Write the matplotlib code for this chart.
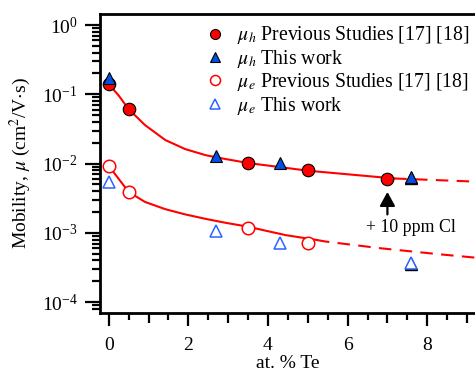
import matplotlib

matplotlib.use("Agg")
import matplotlib.pyplot as plt
from matplotlib.ticker import FixedLocator, LogLocator, NullFormatter

plt.rcParams["font.family"] = ["Liberation Serif", "DejaVu Serif"]
plt.rcParams["mathtext.fontset"] = "stix"
plt.rcParams["xtick.direction"] = "out"
plt.rcParams["ytick.direction"] = "out"

# measured points
hole_prev_x = [0.0, 0.5, 3.5, 5.0, 7.0]
hole_prev_y = [0.14, 0.061, 0.0101, 0.0080, 0.0060]
hole_this_x = [0.0, 2.7, 4.3, 7.6]
hole_this_y = [0.17, 0.0128, 0.0102, 0.0065]
elec_prev_x = [0.0, 0.5, 3.5, 5.0]
elec_prev_y = [0.0093, 0.0039, 0.00119, 0.00071]
elec_this_x = [0.0, 2.7, 4.3, 7.6]
elec_this_y = [0.0055, 0.00106, 0.00071, 0.000365]
cl_x = [7.6, 7.6]
cl_y = [0.0061, 0.00035]

# fit curves
hole_fit_x = [0.0, 0.25, 0.5, 0.91, 1.42, 1.92, 2.42, 2.7, 3.5, 5.0, 7.17]
hole_fit_y = [0.14, 0.096, 0.061, 0.036, 0.0219, 0.0162, 0.0133, 0.0123, 0.0102, 0.0079, 0.0061]
hole_ext_x = [7.17, 7.83, 9.2]
hole_ext_y = [0.0061, 0.0059, 0.0055]
elec_fit_x = [0.0, 0.5, 0.91, 1.42, 1.92, 2.42, 2.93, 3.5, 3.93, 4.44, 5.23]
elec_fit_y = [0.0093, 0.0039, 0.0028, 0.0022, 0.00185, 0.0016, 0.0014, 0.00123, 0.00108, 0.00093, 0.00079]
elec_ext_x = [5.23, 5.45, 6.83, 8.33, 9.2]
elec_ext_y = [0.00079, 0.00075, 0.00060, 0.00049, 0.00044]

x_major = [0, 2, 4, 6, 8]
x_mid = [1, 3, 5, 7, 9]
x_minor = [0.5, 1.5, 2.5, 3.5, 4.5, 5.5, 6.5, 7.5, 8.5]

RED = "#ff0000"
BLUE = "#0050e6"
LBLUE = "#2a62ff"

fig = plt.figure(figsize=(4.75, 3.74), dpi=100)
ax = fig.add_axes([0.2105, 0.164, 0.7895, 0.7986])

ax.plot(hole_fit_x, hole_fit_y, color=RED, lw=1.5, zorder=2)
ax.plot(hole_ext_x, hole_ext_y, color=RED, lw=1.5, dashes=(6, 4), zorder=2)
ax.plot(elec_fit_x, elec_fit_y, color=RED, lw=1.5, zorder=2)
ax.plot(elec_ext_x, elec_ext_y, color=RED, lw=1.5, dashes=(6, 4), zorder=2)

ax.plot(cl_x, cl_y, ls="none", marker="^", ms=8.5, color="k", zorder=3)
ax.plot(hole_prev_x, hole_prev_y, ls="none", marker="o", ms=9, mfc=RED, mec="k", mew=0.8,
        label=r"$\mu_h$ Previous Studies [17] [18]", zorder=4)
ax.plot(hole_this_x, hole_this_y, ls="none", marker="^", ms=9, mfc=BLUE, mec="k", mew=0.8,
        label=r"$\mu_h$ This work", zorder=5)
ax.plot(elec_prev_x, elec_prev_y, ls="none", marker="o", ms=9, mfc="white", mec=RED, mew=1.1,
        label=r"$\mu_e$ Previous Studies [17] [18]", zorder=4)
ax.plot(elec_this_x, elec_this_y, ls="none", marker="^", ms=9, mfc="white", mec=LBLUE, mew=1.1,
        label=r"$\mu_e$ This work", zorder=5)

ax.annotate("", xy=(7.0, 0.0039), xytext=(7.0, 0.00185),
            arrowprops=dict(arrowstyle="-|>,head_length=0.4,head_width=0.22", color="k",
                            lw=1.6, mutation_scale=21, shrinkA=0, shrinkB=0))
ax.text(7.6, 0.00118, "+ 10 ppm Cl", ha="center", va="center", fontsize=12.8)

ax.set_yscale("log")
ax.set_xlim(-0.22, 9.2)
ax.set_ylim(10 ** -4.151, 10 ** 0.159)

ax.xaxis.set_major_locator(FixedLocator(x_major))
ax.xaxis.set_minor_locator(FixedLocator(x_minor))
ax.yaxis.set_major_locator(LogLocator(base=10, numticks=10))
ax.yaxis.set_minor_locator(LogLocator(base=10, subs=range(2, 10), numticks=10))
ax.yaxis.set_minor_formatter(NullFormatter())

ax.tick_params(axis="x", which="major", length=9.5, width=1.6, labelsize=14, pad=8)
ax.tick_params(axis="x", which="minor", length=5, width=1.6)
ax.tick_params(axis="y", which="major", length=11, width=1.6, labelsize=14, pad=5)
ax.tick_params(axis="y", which="minor", length=5.5, width=1.6)

# medium ticks at odd integers
sec = ax.secondary_xaxis("bottom")
sec.set_xticks(x_mid)
sec.tick_params(axis="x", length=7.5, width=1.6, labelbottom=False)
sec.spines["bottom"].set_visible(False)

ax.spines["right"].set_visible(False)
for side in ["left", "bottom", "top"]:
    ax.spines[side].set_linewidth(2.0)

ax.set_xlabel("at. % Te", fontsize=14, labelpad=1)
ax.set_ylabel(r"Mobility, $\mu$ (cm$^2$/V$\cdot$s)", fontsize=14, labelpad=6)

ax.legend(loc="upper left", bbox_to_anchor=(0.28, 0.965), frameon=False, fontsize=14.2,
          handlelength=1.0, handletextpad=0.6, labelspacing=0.07, borderpad=0,
          markerscale=0.8, borderaxespad=0)

fig.savefig("out.png", dpi=100)
